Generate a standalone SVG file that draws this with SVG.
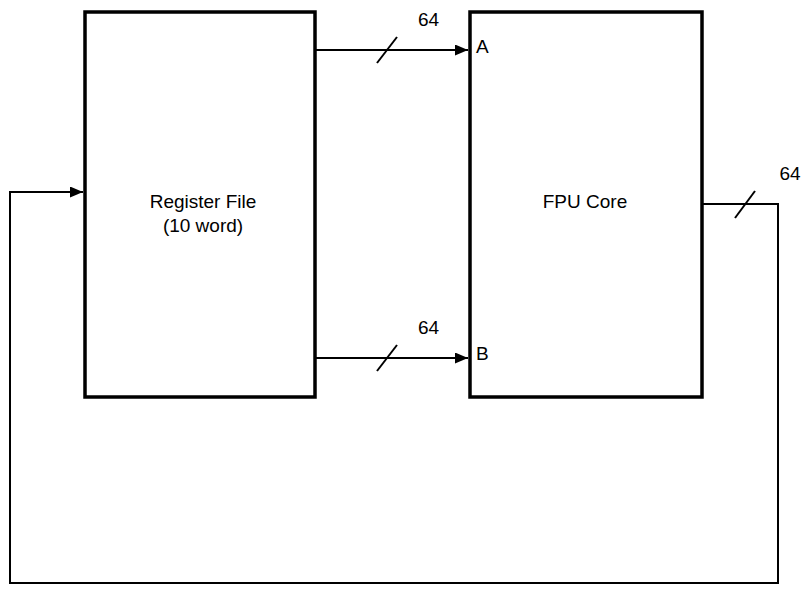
<svg xmlns="http://www.w3.org/2000/svg" width="803" height="589" viewBox="0 0 803 589">
<style>
.box{fill:none;stroke:#000;stroke-width:3.5}
.wire{fill:none;stroke:#000;stroke-width:2}
.t{font-family:"Liberation Sans",Arial,sans-serif;font-size:19px;fill:#000}
</style>
<defs>
<marker id="arr" markerWidth="13" markerHeight="11" refX="13" refY="5.5" orient="auto" markerUnits="userSpaceOnUse">
<path d="M0,0 L13,5.5 L0,11 Z" fill="#000"/>
</marker>
</defs>
<rect width="803" height="589" fill="#fff"/>
<g id="connectors">
<line class="wire" x1="316" y1="50" x2="468" y2="50" marker-end="url(#arr)"/>
<line class="wire" x1="377" y1="63" x2="397" y2="37"/>
<text class="t" x="428.5" y="26" text-anchor="middle">64</text>
<line class="wire" x1="316" y1="358" x2="468" y2="358" marker-end="url(#arr)"/>
<line class="wire" x1="377" y1="371" x2="397" y2="345"/>
<text class="t" x="428.5" y="334" text-anchor="middle">64</text>
<polyline class="wire" points="703,204 778,204 778,583 10,583 10,192 83,192" marker-end="url(#arr)"/>
<line class="wire" x1="735" y1="218" x2="755" y2="191"/>
<text class="t" x="790" y="180" text-anchor="middle">64</text>
</g>
<g id="register-file">
<rect class="box" x="85" y="12" width="230" height="385"/>
<text class="t" x="203" y="208" text-anchor="middle">Register File</text>
<text class="t" x="203" y="232" text-anchor="middle">(10 word)</text>
</g>
<g id="fpu-core">
<rect class="box" x="470" y="12" width="232" height="385"/>
<text class="t" x="585" y="208" text-anchor="middle">FPU Core</text>
<text class="t" x="476" y="53">A</text>
<text class="t" x="476" y="360">B</text>
</g>
</svg>
